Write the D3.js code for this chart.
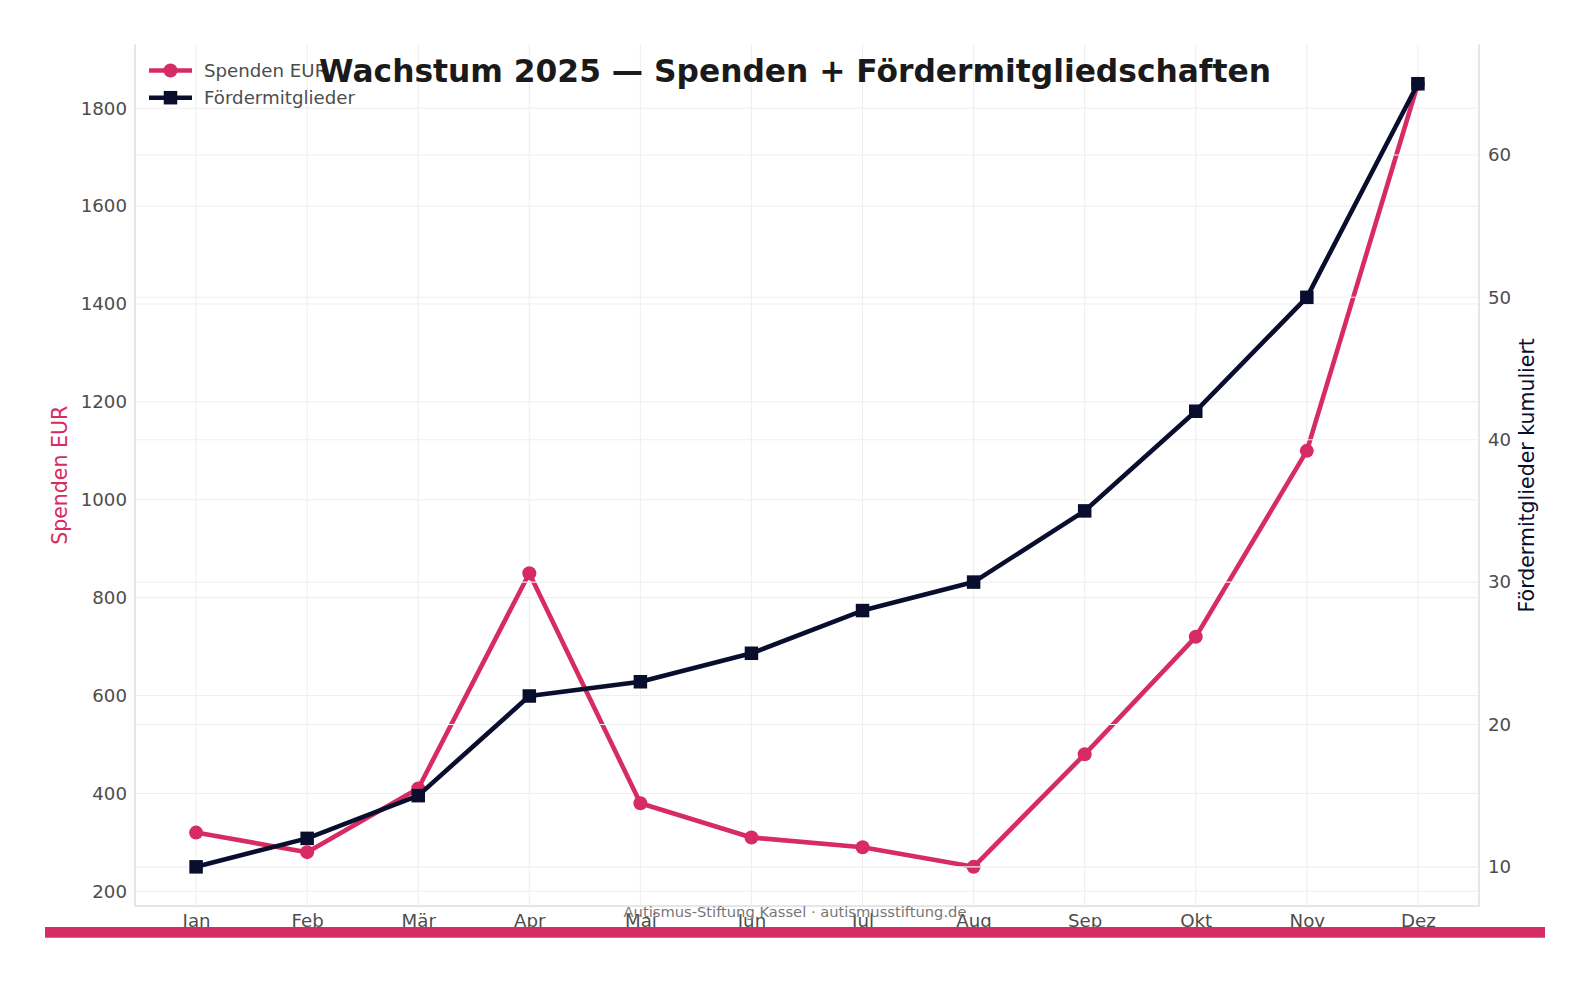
<!DOCTYPE html>
<html>
<head>
<meta charset="utf-8">
<script src="https://cdn.jsdelivr.net/npm/d3@7"></script>
<style>
  html, body { margin: 0; padding: 0; background: #ffffff; }
  svg { display: block; font-family: "DejaVu Sans", sans-serif; }
</style>
</head>
<body>
<svg id="chart" width="1590" height="983"></svg>
<script>
const months = ["Jan", "Feb", "Mär", "Apr", "Mai", "Jun", "Jul", "Aug", "Sep", "Okt", "Nov", "Dez"];
const spenden = [320, 280, 410, 850, 380, 310, 290, 250, 480, 720, 1100, 1850];
const mitglieder = [10, 12, 15, 22, 23, 25, 28, 30, 35, 42, 50, 65];
const leftTicks = [200, 400, 600, 800, 1000, 1200, 1400, 1600, 1800];
const rightTicks = [10, 20, 30, 40, 50, 60];
const titleText = "Wachstum 2025 — Spenden + Fördermitgliedschaften";
const leftLabel = "Spenden EUR";
const rightLabel = "Fördermitglieder kumuliert";
const legendLabels = ["Spenden EUR", "Fördermitglieder"];
const footerText = "Autismus-Stiftung Kassel · autismusstiftung.de";

const PINK = "#D72B63";
const NAVY = "#0A0E2E";
const GRID = "#efefef";
const SPINE = "#e6e6e6";
const TICK = "#4d4d4d";

const L = 135, R = 1479, T = 44.6, B = 906;
const svg = d3.select("#chart");

const x = d3.scalePoint().domain(months).range([L, R]).padding(0.55);
const yL = d3.scaleLinear().domain([170, 1930]).range([B, T]);
const yR = d3.scaleLinear().domain([7.25, 67.75]).range([B, T]);

// left axis grid (horizontal + vertical)
const gGrid = svg.append("g");
gGrid.selectAll("line.h").data(leftTicks).join("line")
  .attr("x1", L).attr("x2", R)
  .attr("y1", d => yL(d)).attr("y2", d => yL(d))
  .attr("stroke", GRID).attr("stroke-width", 1.1);
gGrid.selectAll("line.v").data(months).join("line")
  .attr("x1", d => x(d)).attr("x2", d => x(d))
  .attr("y1", T).attr("y2", B)
  .attr("stroke", GRID).attr("stroke-width", 1.1);

// pink line
const lineL = d3.line().x((d, i) => x(months[i])).y(d => yL(d));
svg.append("path").datum(spenden).attr("d", lineL)
  .attr("fill", "none").attr("stroke", PINK).attr("stroke-width", 4.6)
  .attr("stroke-linejoin", "round").attr("stroke-linecap", "butt");
svg.append("g").selectAll("circle").data(spenden).join("circle")
  .attr("cx", (d, i) => x(months[i])).attr("cy", d => yL(d))
  .attr("r", 7).attr("fill", PINK);

// twin axis grid on top of pink
svg.append("g").selectAll("line").data(rightTicks).join("line")
  .attr("x1", L).attr("x2", R)
  .attr("y1", d => yR(d)).attr("y2", d => yR(d))
  .attr("stroke", GRID).attr("stroke-width", 1.1);

// navy line
const lineR = d3.line().x((d, i) => x(months[i])).y(d => yR(d));
svg.append("path").datum(mitglieder).attr("d", lineR)
  .attr("fill", "none").attr("stroke", NAVY).attr("stroke-width", 4.6)
  .attr("stroke-linejoin", "round");
const sq = 13.5;
svg.append("g").selectAll("rect").data(mitglieder).join("rect")
  .attr("x", (d, i) => x(months[i]) - sq / 2).attr("y", d => yR(d) - sq / 2)
  .attr("width", sq).attr("height", sq).attr("fill", NAVY);

// spines (left, bottom, right)
const sp = svg.append("g").attr("stroke", SPINE).attr("stroke-width", 2).attr("fill", "none");
sp.append("line").attr("x1", L).attr("x2", L).attr("y1", T).attr("y2", B + 1);
sp.append("line").attr("x1", L - 1).attr("x2", R + 1).attr("y1", B).attr("y2", B);
sp.append("line").attr("x1", R).attr("x2", R).attr("y1", T).attr("y2", B + 1);

// axes via d3 axis generators (no tick lines)
const axL = svg.append("g").attr("transform", `translate(${L},0)`)
  .call(d3.axisLeft(yL).tickValues(leftTicks).tickSize(0).tickPadding(8).tickFormat(d3.format("d")));
const axR = svg.append("g").attr("transform", `translate(${R},0)`)
  .call(d3.axisRight(yR).tickValues(rightTicks).tickSize(0).tickPadding(9).tickFormat(d3.format("d")));
const axB = svg.append("g").attr("transform", `translate(0,${B})`)
  .call(d3.axisBottom(x).tickSize(0).tickPadding(8));
[axL, axR, axB].forEach(a => {
  a.select(".domain").remove();
  a.selectAll("text").attr("font-family", "DejaVu Sans").attr("font-size", 18.2).attr("fill", TICK);
});

// axis labels
svg.append("text").attr("transform", `translate(67,${(T + B) / 2}) rotate(-90)`)
  .attr("text-anchor", "middle").attr("font-size", 20.5).attr("fill", PINK).text(leftLabel);
svg.append("text").attr("transform", `translate(1534,${(T + B) / 2}) rotate(-90)`)
  .attr("text-anchor", "middle").attr("font-size", 20.5).attr("fill", NAVY).text(rightLabel);

// legend
const leg = svg.append("g");
const legY = [70.5, 97.7];
[PINK, NAVY].forEach((c, i) => {
  leg.append("line").attr("x1", 149).attr("x2", 192).attr("y1", legY[i]).attr("y2", legY[i])
    .attr("stroke", c).attr("stroke-width", 4.6);
  if (i === 0) leg.append("circle").attr("cx", 170.5).attr("cy", legY[i]).attr("r", 7).attr("fill", c);
  else leg.append("rect").attr("x", 170.5 - sq / 2).attr("y", legY[i] - sq / 2).attr("width", sq).attr("height", sq).attr("fill", c);
  leg.append("text").attr("x", 204).attr("y", legY[i]).attr("dy", "0.35em")
    .attr("font-size", 18.2).attr("fill", TICK).text(legendLabels[i]);
});

// title
svg.append("text").attr("x", 795).attr("y", 81.5).attr("text-anchor", "middle")
  .attr("font-size", 31.3).attr("font-weight", "bold").attr("fill", "#1a1a1a").text(titleText);

// footer
svg.append("text").attr("x", 795).attr("y", 917).attr("text-anchor", "middle")
  .attr("font-size", 14.7).attr("fill", "#777777").text(footerText);

// bottom band
svg.append("rect").attr("x", 45).attr("y", 927).attr("width", 1500).attr("height", 10.7).attr("fill", PINK);
</script>
</body>
</html>
